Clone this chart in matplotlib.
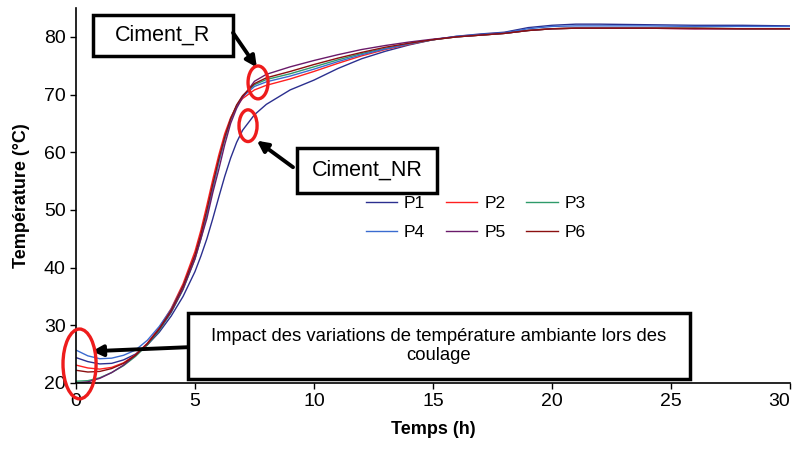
import matplotlib
matplotlib.use('Agg')
import matplotlib.pyplot as plt
from matplotlib.patches import Ellipse, Rectangle

plt.rcParams['font.family'] = ['Liberation Sans', 'DejaVu Sans']

# temps (h)
t = [0, 0.5, 1, 1.5, 2, 2.5, 3, 3.5, 4, 4.5, 5, 5.25, 5.5, 5.75, 6, 6.25, 6.5, 6.75, 7, 7.5,
     8, 9, 10, 11, 12, 13, 14, 15, 16, 17, 18, 19, 20, 21, 22, 24, 26, 28, 30]

# temperatures (°C)
p1 = [24.4, 23.7, 23.3, 23.4, 24.0, 25.0, 26.6, 28.8, 31.6, 35.0, 39.3, 42.0, 45.0, 48.5, 52.2, 55.8, 59.0, 61.7, 63.8, 66.5,
      68.3, 70.8, 72.5, 74.5, 76.2, 77.5, 78.6, 79.5, 80.1, 80.5, 80.8, 81.6, 82.0, 82.2, 82.2, 82.1, 82.0, 82.0, 81.9]
p2 = [23.1, 22.6, 22.4, 22.7, 23.5, 24.9, 26.9, 29.6, 32.9, 37.2, 42.8, 46.5, 50.8, 55.3, 59.5, 63.2, 66.0, 68.0, 69.3, 70.8,
      71.6, 72.7, 74.0, 75.4, 76.7, 77.8, 78.7, 79.5, 80.0, 80.3, 80.6, 81.1, 81.4, 81.5, 81.5, 81.5, 81.4, 81.4, 81.4]
p3 = [20.3, 20.4, 20.9, 21.8, 23.0, 24.6, 26.6, 29.1, 32.2, 36.2, 41.5, 45.0, 49.2, 53.7, 58.2, 62.2, 65.6, 68.0, 69.7, 71.7,
      72.6, 73.6, 74.8, 76.0, 77.1, 78.0, 78.8, 79.5, 80.0, 80.3, 80.6, 81.1, 81.4, 81.5, 81.5, 81.5, 81.5, 81.4, 81.4]
p4 = [25.7, 24.7, 24.2, 24.3, 24.8, 25.7, 27.4, 29.8, 32.8, 36.8, 42.0, 45.5, 49.6, 54.0, 58.4, 62.4, 65.7, 68.0, 69.6, 71.4,
      72.2, 73.2, 74.4, 75.7, 76.9, 77.9, 78.8, 79.5, 80.1, 80.4, 80.7, 81.4, 81.8, 81.9, 81.9, 81.9, 81.8, 81.8, 81.8]
p5 = [20.0, 20.2, 20.8, 21.8, 23.1, 24.8, 26.8, 29.3, 32.3, 36.3, 41.5, 45.0, 48.5, 53.0, 57.0, 61.3, 65.0, 67.6, 69.5, 72.3,
      73.5, 74.8, 75.9, 76.9, 77.8, 78.5, 79.1, 79.6, 80.0, 80.3, 80.6, 81.1, 81.4, 81.5, 81.5, 81.5, 81.4, 81.4, 81.4]
p6 = [22.2, 21.9, 22.0, 22.5, 23.4, 24.8, 26.8, 29.4, 32.6, 36.8, 42.2, 45.8, 50.0, 54.5, 58.8, 62.6, 65.8, 68.2, 69.8, 71.9,
      72.9, 74.0, 75.2, 76.3, 77.3, 78.2, 78.9, 79.5, 80.0, 80.3, 80.6, 81.1, 81.4, 81.5, 81.5, 81.5, 81.5, 81.4, 81.4]

series = [p1, p2, p3, p4, p5, p6]
names = ['P1', 'P2', 'P3', 'P4', 'P5', 'P6']
colors = ['#2b2f8f', '#ff2020', '#2e9a6a', '#3a6bd0', '#6a1a6a', '#8b1010']

fig = plt.figure(figsize=(7.98, 4.57), dpi=100)
ax = fig.add_axes([0.0952, 0.162, 0.8947, 0.8205])

lines = {}
for name, y, c in zip(names, series, colors):
    lines[name], = ax.plot(t, y, color=c, lw=1.0, label=name)

ax.set_xlim(0, 30)
ax.set_ylim(20, 85)
ax.set_xticks([0, 5, 10, 15, 20, 25, 30])
ax.set_yticks([20, 30, 40, 50, 60, 70, 80])
ax.spines['top'].set_visible(False)
ax.spines['right'].set_visible(False)
ax.spines['left'].set_linewidth(1.2)
ax.spines['bottom'].set_linewidth(1.2)
ax.tick_params(labelsize=14, length=4, width=1.0, direction='out')
ax.get_xticklabels()[-1].set_horizontalalignment('right')
ax.set_xlabel('Temps (h)', fontsize=13, fontweight='bold', labelpad=8)
ax.set_ylabel('Température (°C)', fontsize=13, fontweight='bold', labelpad=10)

# legend in 2 rows: P1 P2 P3 / P4 P5 P6
order = ['P1', 'P4', 'P2', 'P5', 'P3', 'P6']
ax.legend([lines[n] for n in order], order, ncol=3, frameon=False, fontsize=12.5,
          loc='center', bbox_to_anchor=(0.56, 0.44), handlelength=1.8,
          handletextpad=0.4, columnspacing=1.2, labelspacing=0.75)

# annotation boxes
def box(x0, x1, y0, y1, label, size):
    ax.add_patch(Rectangle((x0, y0), x1 - x0, y1 - y0, fill=True, facecolor='white',
                           edgecolor='black', lw=2.5, clip_on=False, zorder=5))
    ax.text((x0 + x1) / 2, (y0 + y1) / 2, label, ha='center', va='center',
            fontsize=size, zorder=6, linespacing=1.1)

box(0.71, 6.6, 76.6, 83.8, 'Ciment_R', 15.5)
box(9.29, 15.17, 52.9, 60.7, 'Ciment_NR', 15.5)
box(4.71, 25.8, 20.7, 32.1, 'Impact des variations de température ambiante lors des\ncoulage', 13.3)

for (xs, ys), (xe, ye) in [((6.6, 80.7), (7.6, 74.7)),
                           ((9.12, 57.4), (7.6, 62.0)),
                           ((4.71, 26.2), (0.67, 25.5))]:
    ax.annotate('', xy=(xe, ye), xytext=(xs, ys),
                arrowprops=dict(arrowstyle='-|>', color='black', lw=2.8,
                                mutation_scale=16, shrinkA=0, shrinkB=0),
                zorder=7, annotation_clip=False)

for (cx, cy, w, h) in [(7.65, 72.1, 0.84, 5.7), (7.23, 64.6, 0.76, 5.5), (0.15, 23.3, 1.39, 12.1)]:
    ax.add_patch(Ellipse((cx, cy), w, h, fill=False, edgecolor='#ee1c1c', lw=2.4,
                         clip_on=False, zorder=8))

fig.savefig('out.png', dpi=100)
